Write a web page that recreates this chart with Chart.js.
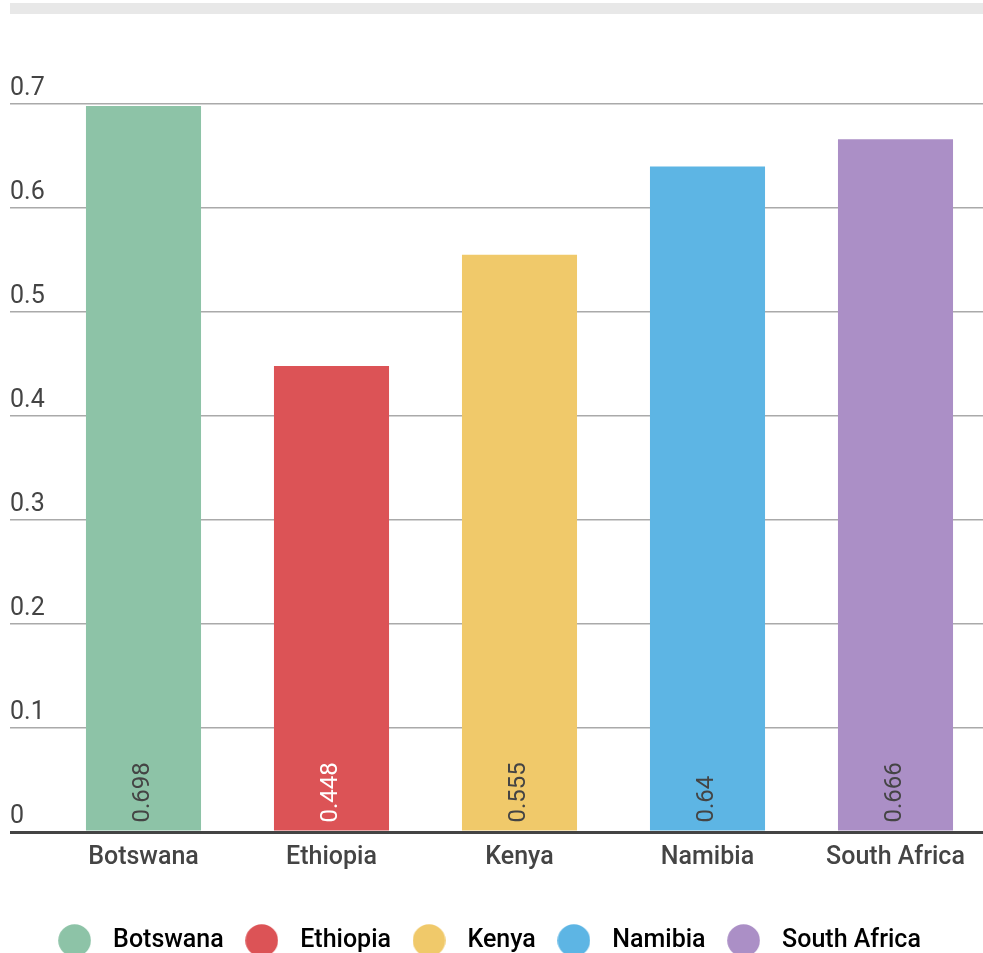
<!DOCTYPE html>
<html>
<head>
<meta charset="utf-8">
<script src="https://cdn.jsdelivr.net/npm/chart.js@4/dist/chart.umd.min.js"></script>
<style>
  html, body { margin: 0; padding: 0; background: #fff; overflow: hidden; }
  .topband { position: absolute; left: 10px; top: 3px; width: 973px; height: 11px; background: #e8e8e8; }
  .wrap { position: absolute; left: 0; top: 0; width: 990px; height: 963px; }
</style>
</head>
<body>
<div class="topband"></div>
<div class="wrap"><canvas id="chart"></canvas></div>
<script>
// Values
const categories = ['Botswana', 'Ethiopia', 'Kenya', 'Namibia', 'South Africa'];
const values = [0.698, 0.448, 0.555, 0.64, 0.666];
const yTicks = [0, 0.1, 0.2, 0.3, 0.4, 0.5, 0.6, 0.7];

const barColors = ['#8dc3a7', '#dc5356', '#f0c96a', '#5db5e4', '#ab8fc6'];
const valueTextColors = ['#444444', '#ffffff', '#444444', '#444444', '#444444'];
const TEXT = '#444444';
const FONT = "Roboto, 'Noto Sans', sans-serif";

Chart.defaults.font.family = FONT;
Chart.defaults.color = TEXT;

// round legend markers, drawn on small canvases so the gap to the text can be set
function dot(color) {
    const c = document.createElement('canvas');
    c.width = 33; c.height = 33;
    const g = c.getContext('2d');
    g.fillStyle = color;
    g.beginPath();
    g.arc(16.5, 16.5, 16.3, 0, Math.PI * 2);
    g.fill();
    return c;
}

// value written sideways at the foot of each bar
const barValues = {
    id: 'barValues',
    afterDatasetsDraw(chart) {
        const ctx = chart.ctx;
        const meta = chart.getDatasetMeta(0);
        ctx.save();
        ctx.font = '24px ' + FONT;
        ctx.textAlign = 'left';
        ctx.textBaseline = 'middle';
        meta.data.forEach((bar, i) => {
            ctx.save();
            ctx.translate(bar.x - 1, bar.base - 8);
            ctx.rotate(-Math.PI / 2);
            ctx.fillStyle = valueTextColors[i];
            ctx.fillText(String(values[i]), 0, 0);
            ctx.restore();
        });
        ctx.restore();
    }
};

// legend sits a little left of the page centre in the reference
const legendShift = {
    id: 'legendShift',
    afterLayout(chart) {
        chart.legend.left -= 15;
        chart.legend.right -= 15;
    }
};

const ctx = document.getElementById('chart').getContext('2d');
new Chart(ctx, {
    type: 'bar',
    data: {
        labels: categories,
        datasets: [{
            data: values,
            backgroundColor: barColors,
            borderWidth: 0,
            barPercentage: 0.612,
            categoryPercentage: 1
        }]
    },
    options: {
        responsive: true,
        maintainAspectRatio: false,
        animation: false,
        layout: { padding: { left: 10, right: 0.5, top: 104, bottom: 0 } },
        scales: {
            x: {
                grid: { display: false },
                border: { display: false },
                afterFit: axis => { axis.height = 84; },
                ticks: { color: TEXT, font: { size: 25, weight: '500' }, padding: 3 }
            },
            y: {
                min: 0,
                max: 0.7,
                afterBuildTicks: axis => { axis.ticks = yTicks.map(v => ({ value: v })); },
                afterFit: axis => { axis.width = 39.5; },
                border: { display: false },
                grid: {
                    color: c => c.tick && c.tick.value === 0 ? '#444444' : '#aaaaaa',
                    lineWidth: c => c.tick && c.tick.value === 0 ? 3 : 1.5,
                    tickLength: 39.5
                },
                ticks: {
                    color: TEXT,
                    font: { size: 25 },
                    crossAlign: 'far',
                    labelOffset: -15,
                    padding: 0,
                    callback: v => String(v)
                }
            }
        },
        plugins: {
            legend: {
                position: 'bottom',
                labels: {
                    color: TEXT,
                    font: { size: 25, weight: '500' },
                    usePointStyle: true,
                    pointStyleWidth: 52,
                    boxHeight: 23,
                    padding: 12,
                    generateLabels: chart => categories.map((name, i) => ({
                        text: name,
                        fillStyle: barColors[i],
                        strokeStyle: barColors[i],
                        lineWidth: 0,
                        pointStyle: dot(barColors[i]),
                        hidden: false,
                        index: i
                    }))
                },
                onClick: () => {}
            },
            tooltip: { enabled: false }
        }
    },
    plugins: [barValues, legendShift]
});
</script>
</body>
</html>
